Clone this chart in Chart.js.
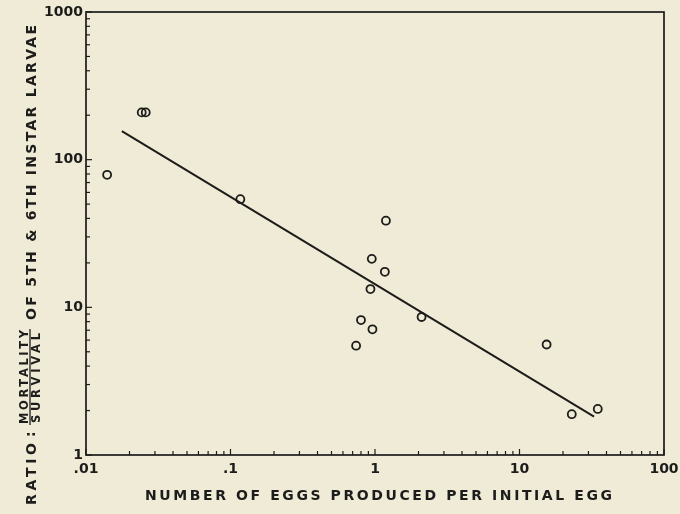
<!DOCTYPE html>
<html>
<head>
<meta charset="utf-8">
<script src="https://cdn.jsdelivr.net/npm/chart.js@4/dist/chart.umd.min.js"></script>
<style>
html,body{margin:0;padding:0;background:#efebd7;}
canvas{display:block;}
</style>
</head>
<body>
<canvas id="c" width="680" height="514"></canvas>
<script>
// Data
const eggsPerInitialEgg = [0.014, 0.0243, 0.0259, 0.117, 1.19, 0.95, 1.17, 0.93, 0.80, 0.96, 0.74, 2.10, 15.4, 23.0, 34.8];
const mortalitySurvivalRatio = [79, 209, 209, 54, 38.6, 21.3, 17.4, 13.3, 8.2, 7.1, 5.5, 8.6, 5.6, 1.89, 2.05];
const fitX = [0.0177, 32.8];
const fitY = [156, 1.82];
const xTickValues = [0.01, 0.1, 1, 10, 100];
const xTickLabels = ['.01', '.1', '1', '10', '100'];
const yTickValues = [1, 10, 100, 1000];
const yTickLabels = ['1', '10', '100', '1000'];
const xTitle = 'NUMBER OF EGGS PRODUCED PER INITIAL EGG';
const yTitleParts = ['RATIO', ':', 'MORTALITY', 'SURVIVAL', 'OF 5TH & 6TH INSTAR LARVAE'];

const INK = '#1c1c1a';
const BG = '#efebd7';
const FONT = '"DejaVu Sans", sans-serif';

function drawSpaced(ctx, text, x, y, target) {
  ctx.letterSpacing = '0px';
  const w0 = ctx.measureText(text).width;
  const n = text.length;
  const sp = n > 1 ? (target - w0) / (n - 1) : 0;
  ctx.letterSpacing = sp + 'px';
  ctx.textAlign = 'left';
  ctx.fillText(text, x, y);
  ctx.letterSpacing = '0px';
}

const decor = {
  id: 'decor',
  beforeDraw(chart) {
    const ctx = chart.ctx;
    ctx.save();
    ctx.fillStyle = BG;
    ctx.fillRect(0, 0, chart.width, chart.height);
    ctx.restore();
  },
  afterDraw(chart) {
    const ctx = chart.ctx;
    const a = chart.chartArea;
    const xs = chart.scales.x, ys = chart.scales.y;
    ctx.save();
    ctx.strokeStyle = INK;
    ctx.lineWidth = 1.7;
    ctx.strokeRect(a.left, a.top, a.right - a.left, a.bottom - a.top);
    ctx.lineWidth = 1.2;
    // minor/major ticks pointing inward
    for (let d = 0.01; d < 100 * 1.0001; d *= 10) {
      for (let m = 1; m <= 9; m++) {
        const v = m * d;
        if (v > 100 * 1.0001) break;
        const px = xs.getPixelForValue(v);
        const len = m === 1 ? 6 : 4;
        ctx.beginPath();
        ctx.moveTo(px, a.bottom);
        ctx.lineTo(px, a.bottom - len);
        ctx.stroke();
      }
    }
    for (let d = 1; d < 1000 * 1.0001; d *= 10) {
      for (let m = 1; m <= 9; m++) {
        const v = m * d;
        if (v > 1000 * 1.0001) break;
        const py = ys.getPixelForValue(v);
        const len = m === 1 ? 6 : 4;
        ctx.beginPath();
        ctx.moveTo(a.left, py);
        ctx.lineTo(a.left + len, py);
        ctx.stroke();
      }
    }
    // x title
    ctx.fillStyle = INK;
    ctx.textBaseline = 'alphabetic';
    ctx.font = 'bold 14px ' + FONT;
    drawSpaced(ctx, xTitle, 145, 500, 467);
    // y title (rotated)
    ctx.translate(36, 505);
    ctx.rotate(-Math.PI / 2);
    ctx.font = 'bold 14px ' + FONT;
    drawSpaced(ctx, yTitleParts[0], 0, 0, 62);
    ctx.fillText(yTitleParts[1], 68, -1);
    ctx.font = 'bold 11.5px ' + FONT;
    drawSpaced(ctx, yTitleParts[2], 81, -8, 94);
    drawSpaced(ctx, yTitleParts[3], 82, 4, 90);
    ctx.lineWidth = 1.3;
    ctx.beginPath();
    ctx.moveTo(80, -6);
    ctx.lineTo(176, -6);
    ctx.stroke();
    ctx.font = 'bold 14px ' + FONT;
    drawSpaced(ctx, yTitleParts[4], 185, 0, 295);
    ctx.restore();
  }
};

new Chart(document.getElementById('c'), {
  type: 'scatter',
  data: {
    datasets: [
      {
        type: 'line',
        data: fitX.map((x, i) => ({ x, y: fitY[i] })),
        borderColor: INK,
        borderWidth: 2,
        pointRadius: 0,
        fill: false,
        order: 2
      },
      {
        data: eggsPerInitialEgg.map((x, i) => ({ x, y: mortalitySurvivalRatio[i] })),
        pointRadius: 4,
        pointBorderWidth: 1.8,
        pointBorderColor: INK,
        pointBackgroundColor: 'rgba(0,0,0,0)',
        order: 1
      }
    ]
  },
  options: {
    responsive: false,
    animation: false,
    devicePixelRatio: 1,
    layout: { padding: { top: 12, right: 16, left: 0, bottom: 0 } },
    plugins: { legend: { display: false }, tooltip: { enabled: false } },
    scales: {
      x: {
        type: 'logarithmic',
        min: 0.01,
        max: 100,
        grid: { display: false, drawTicks: false },
        border: { display: false },
        afterBuildTicks(s) { s.ticks = xTickValues.map(v => ({ value: v })); },
        afterFit(s) { s.height = 59; s.paddingLeft = 0; s.paddingRight = 0; },
        ticks: {
          autoSkip: false,
          maxRotation: 0,
          padding: 6,
          color: INK,
          font: { family: FONT, size: 14, weight: 'bold' },
          callback(v) { const i = xTickValues.findIndex(t => Math.abs(t - v) < 1e-9 * Math.max(1, t)); return i >= 0 ? xTickLabels[i] : ''; }
        }
      },
      y: {
        type: 'logarithmic',
        min: 1,
        max: 1000,
        grid: { display: false, drawTicks: false },
        border: { display: false },
        afterBuildTicks(s) { s.ticks = yTickValues.map(v => ({ value: v })); },
        afterFit(s) { s.width = 86; s.paddingTop = 0; s.paddingBottom = 0; },
        ticks: {
          autoSkip: false,
          padding: 3,
          color: INK,
          font: { family: FONT, size: 14, weight: 'bold' },
          callback(v) { const i = yTickValues.findIndex(t => Math.abs(t - v) < 1e-9 * t); return i >= 0 ? yTickLabels[i] : ''; }
        }
      }
    }
  },
  plugins: [decor]
});
</script>
</body>
</html>
